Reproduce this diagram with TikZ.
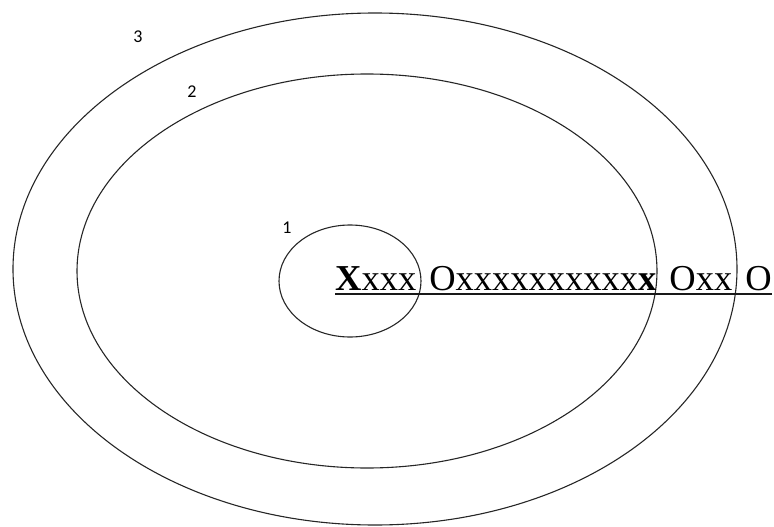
\documentclass[tikz,border=0pt]{standalone}
\usepackage{fontspec}
\setmainfont{Liberation Serif}
\newfontfamily\labfont{Carlito}
\begin{document}
\begin{tikzpicture}[x=1pt,y=-1pt,
  ring/.style={draw=black!85,line width=1.1pt},
  lab/.style={font=\labfont\fontsize{18}{18}\selectfont,inner sep=0pt},
  seq/.style={font=\fontsize{36.5}{36.5}\selectfont,inner sep=0pt,anchor=base west}]
\useasboundingbox (0,0) rectangle (774,527);
\draw[ring] (375,269) ellipse [x radius=362, y radius=256];
\draw[ring] (367,271) ellipse [x radius=290, y radius=197];
\draw[ring] (350,281) ellipse [x radius=71, y radius=56];
\node[lab] (l3) at (138,37) {3};
\node[lab] (l2) at (192,92) {2};
\node[lab] (l1) at (287,228) {1};
\node[seq] (t) at (335,290) {{\bfseries X}xxx\hspace{13pt}Oxxxxxxxxxx{\bfseries x}\hspace{13pt}Oxx\hspace{13pt}O};
\coordinate (u1) at ([yshift=-3.5pt]t.base west);
\coordinate (u2) at ([yshift=-3.5pt]t.base east);
\draw[line width=2pt,black!90] (u1) -- (u2);
\end{tikzpicture}
\end{document}
